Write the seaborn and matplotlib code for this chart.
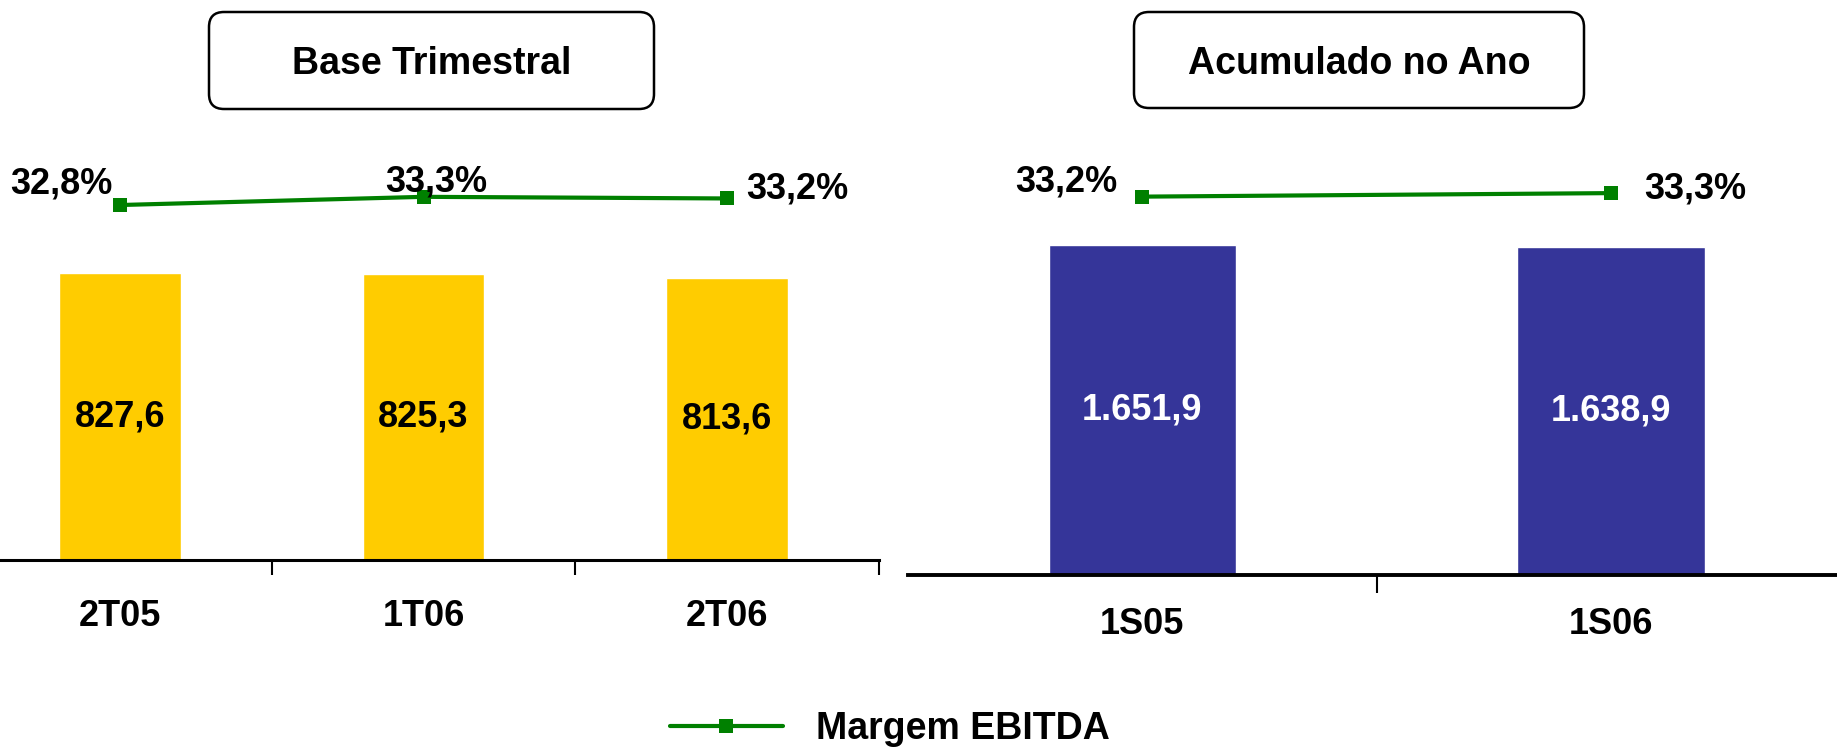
import numpy as np
import matplotlib.pyplot as plt
import seaborn as sns
from matplotlib.patches import FancyBboxPatch
from matplotlib.lines import Line2D

# ------------------------------
# data
# ------------------------------
tri_cats = ["2T05", "1T06", "2T06"]
tri_ebitda = [827.6, 825.3, 813.6]
tri_ebitda_lbl = ["827,6", "825,3", "813,6"]
tri_margin = [32.8, 33.3, 33.2]
tri_margin_lbl = ["32,8%", "33,3%", "33,2%"]

ano_cats = ["1S05", "1S06"]
ano_ebitda = [1651.9, 1638.9]
ano_ebitda_lbl = ["1.651,9", "1.638,9"]
ano_margin = [33.2, 33.3]
ano_margin_lbl = ["33,2%", "33,3%"]

titles = ["Base Trimestral", "Acumulado no Ano"]
legend_label = "Margem EBITDA"

# ------------------------------
# style
# ------------------------------
sns.set_style("white")
plt.rcParams["font.family"] = ["Liberation Sans", "DejaVu Sans"]
plt.rcParams["font.weight"] = "bold"
plt.rcParams["text.color"] = "black"
plt.rcParams["xtick.color"] = "black"
plt.rcParams["xtick.labelcolor"] = "black"

YELLOW = "#FFCC00"
BLUE = "#353599"
GREEN = "#008000"
FS = 26

fig = plt.figure(figsize=(18.37, 7.52), dpi=100)

ax_l = fig.add_axes([-0.0172, 0.2553, 0.4955, 0.5266])
ax_r = fig.add_axes([0.4943, 0.2350, 0.5101, 0.5470])


def draw_panel(ax, cats, vals, vals_lbl, pct, pct_lbl, color, lbl_color,
               ymax, pct_lim, offsets, tick_len, pad, spine_lw):
    sns.barplot(x=cats, y=vals, color=color, width=0.4, saturation=1, ax=ax)
    ax.bar_label(ax.containers[0], labels=vals_lbl, label_type="center",
                 fontsize=FS, fontweight="bold", color=lbl_color)
    ax.set_ylim(0, ymax)
    ax.set_yticks([])
    ax.set_xlabel("")
    ax.set_ylabel("")
    n = len(cats)
    ax.set_xticks(np.arange(n))
    ax.set_xticklabels(cats, fontsize=FS, fontweight="bold", color="black")
    ax.set_xticks(np.arange(n) + 0.5, minor=True)
    ax.tick_params(axis="x", which="major", length=0, pad=pad)
    ax.tick_params(axis="x", which="minor", length=tick_len, width=1.5,
                   direction="out", color="black", bottom=True)
    for s in ["top", "right", "left"]:
        ax.spines[s].set_visible(False)
    ax.spines["bottom"].set_linewidth(spine_lw)
    ax.spines["bottom"].set_color("black")

    ax2 = ax.twinx()
    sns.lineplot(x=np.arange(n), y=pct, ax=ax2, color=GREEN, linewidth=3,
                 marker="s", markersize=10, markeredgewidth=0)
    ax2.set_ylim(*pct_lim)
    ax2.axis("off")
    for i, (p, t) in enumerate(zip(pct, pct_lbl)):
        ax2.annotate(t, (i, p), xytext=offsets[i], textcoords="offset pixels",
                     ha="center", va="center", fontsize=FS, fontweight="bold",
                     color="black")
    ax.set_xlim(-0.5, n - 0.5)
    ax2.set_xlim(-0.5, n - 0.5)


draw_panel(ax_l, tri_cats, tri_ebitda, tri_ebitda_lbl, tri_margin, tri_margin_lbl,
           YELLOW, "black", 1142, (11.16, 35.3),
           [(-59, 21), (13, 15), (70, 9)], 11, 28, 2.2)
draw_panel(ax_r, ano_cats, ano_ebitda, ano_ebitda_lbl, ano_margin, ano_margin_lbl,
           BLUE, "white", 2056, (22.43, 34.13),
           [(-76, 15), (84, 4)], 13, 23, 2.8)

# title boxes (in inches)
boxes = [(2.09, 6.43, 4.45, 0.97), (11.34, 6.44, 4.50, 0.96)]
for (x0, y0, w, h), t in zip(boxes, titles):
    fig.patches.append(FancyBboxPatch((x0, y0), w, h,
                                      boxstyle="round,pad=0,rounding_size=0.15",
                                      transform=fig.dpi_scale_trans,
                                      facecolor="white", edgecolor="black",
                                      linewidth=1.8))
    fig.text((x0 + w / 2) / 18.37, (y0 + h / 2 - 0.04) / 7.52, t,
             ha="center", va="center", fontsize=27, fontweight="bold",
             color="black")

handle = Line2D([], [], color=GREEN, linewidth=3, marker="s", markersize=10,
                markeredgewidth=0)
fig.legend([handle], [legend_label], loc="center left",
           bbox_to_anchor=(670 / 1837, 0.03), frameon=False,
           handlelength=3.0, handletextpad=0.9, borderpad=0, borderaxespad=0,
           prop={"size": 27, "weight": "bold"})

fig.savefig("out.png", dpi=100)
